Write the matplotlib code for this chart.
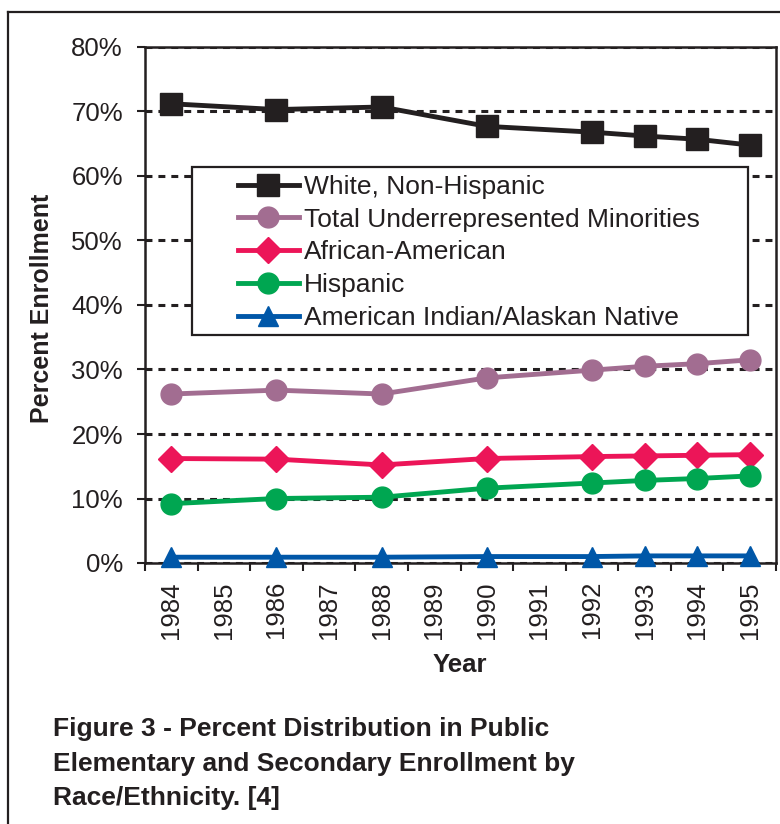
import matplotlib
matplotlib.use('Agg')
import matplotlib.pyplot as plt
from matplotlib.patches import Rectangle
from matplotlib.lines import Line2D

plt.rcParams['font.family'] = ['Liberation Sans', 'DejaVu Sans']
plt.rcParams['lines.scale_dashes'] = False

# data
years = [1984, 1986, 1988, 1990, 1992, 1993, 1994, 1995]
tick_years = list(range(1984, 1996))
white = [71.2, 70.3, 70.7, 67.7, 66.8, 66.2, 65.7, 64.8]
total_urm = [26.2, 26.8, 26.2, 28.7, 29.9, 30.5, 30.9, 31.5]
african_american = [16.2, 16.1, 15.2, 16.2, 16.5, 16.6, 16.7, 16.8]
hispanic = [9.2, 10.0, 10.2, 11.6, 12.4, 12.8, 13.1, 13.5]
am_indian = [0.9, 0.9, 0.9, 1.0, 1.0, 1.1, 1.1, 1.1]
y_ticks = [0, 10, 20, 30, 40, 50, 60, 70, 80]

ink = '#231f20'
W, H = 780, 824

fig = plt.figure(figsize=(7.8, 8.24), dpi=100)
ax = fig.add_axes([145 / W, 1 - 563 / H, (776 - 145) / W, (563 - 47) / H])

series = [
    (white, 'White, Non-Hispanic', ink, 's', 15.5),
    (total_urm, 'Total Underrepresented Minorities', '#a26d91', 'o', 15),
    (african_american, 'African-American', '#ec1558', 'D', 13),
    (hispanic, 'Hispanic', '#00a651', 'o', 15),
    (am_indian, 'American Indian/Alaskan Native', '#0057a8', '^', 15),
]
handles = []
for vals, name, col, mk, ms in series:
    ln, = ax.plot(years, vals, color=col, lw=3.5, marker=mk, ms=ms,
                  mec=col, mfc=col, label=name, zorder=3, clip_on=False)
    handles.append(ln)

ax.set_xlim(1983.5, 1995.5)
ax.set_ylim(0, 80)

# y axis
ax.set_yticks(y_ticks)
ax.set_yticklabels([f'{v}%' for v in y_ticks], fontsize=18.5, color=ink)
ax.tick_params(axis='y', direction='out', length=6, width=1.5, color=ink, pad=10)
ax.yaxis.grid(True, color=ink, lw=2.2, dashes=(5, 4.3))
ax.set_axisbelow(True)

# x axis: tick marks between categories, labels at the years
ax.set_xticks([y - 0.5 for y in tick_years] + [1995.5])
ax.set_xticklabels([])
ax.set_xticks(tick_years, minor=True)
ax.set_xticklabels([str(y) for y in tick_years], minor=True, rotation=90,
                   fontsize=18.5, color=ink, va='top')
ax.tick_params(axis='x', which='major', direction='out', length=6, width=1.5, color=ink)
ax.tick_params(axis='x', which='minor', length=0, pad=13)

for s in ax.spines.values():
    s.set_color(ink)
    s.set_linewidth(1.8)

# axis titles
fig.text(42 / W, 1 - 308 / H, 'Percent Enrollment', rotation=90, ha='center', va='center',
         fontsize=18, fontweight='bold', color=ink)
fig.text(460 / W, 1 - 665 / H, 'Year', ha='center', va='center',
         fontsize=18.5, fontweight='bold', color=ink)

# legend box drawn as a white rectangle over the grid
box = Rectangle((192 / W, 1 - 335 / H), (748 - 192) / W, (335 - 167) / H,
                transform=fig.transFigure, facecolor='white', edgecolor=ink,
                lw=1.6, zorder=5)
ax.add_patch(box)
box.set_clip_on(False)
leg = ax.legend(handles=handles, loc='upper left', frameon=False,
                bbox_to_anchor=(238 / W, 1 - 175 / H), bbox_transform=fig.transFigure,
                borderpad=0, borderaxespad=0, handlelength=2.3, handletextpad=0.2,
                labelspacing=0.33, fontsize=19, labelcolor=ink)
leg.set_zorder(6)

# caption
caption = ['Figure 3 - Percent Distribution in Public',
           'Elementary and Secondary Enrollment by',
           'Race/Ethnicity. [4]']
for i, line in enumerate(caption):
    fig.text(53 / W, 1 - (729 + 34.5 * i) / H, line, ha='left', va='center',
             fontsize=19, fontweight='bold', color=ink)

# outer frame (left and top edges)
fig.add_artist(Line2D([8 / W, 8 / W], [0, 1 - 12 / H], transform=fig.transFigure,
                      color=ink, lw=1.6))
fig.add_artist(Line2D([8 / W, 1], [1 - 12 / H, 1 - 12 / H], transform=fig.transFigure,
                      color=ink, lw=1.6))

fig.savefig('out.png', dpi=100)
